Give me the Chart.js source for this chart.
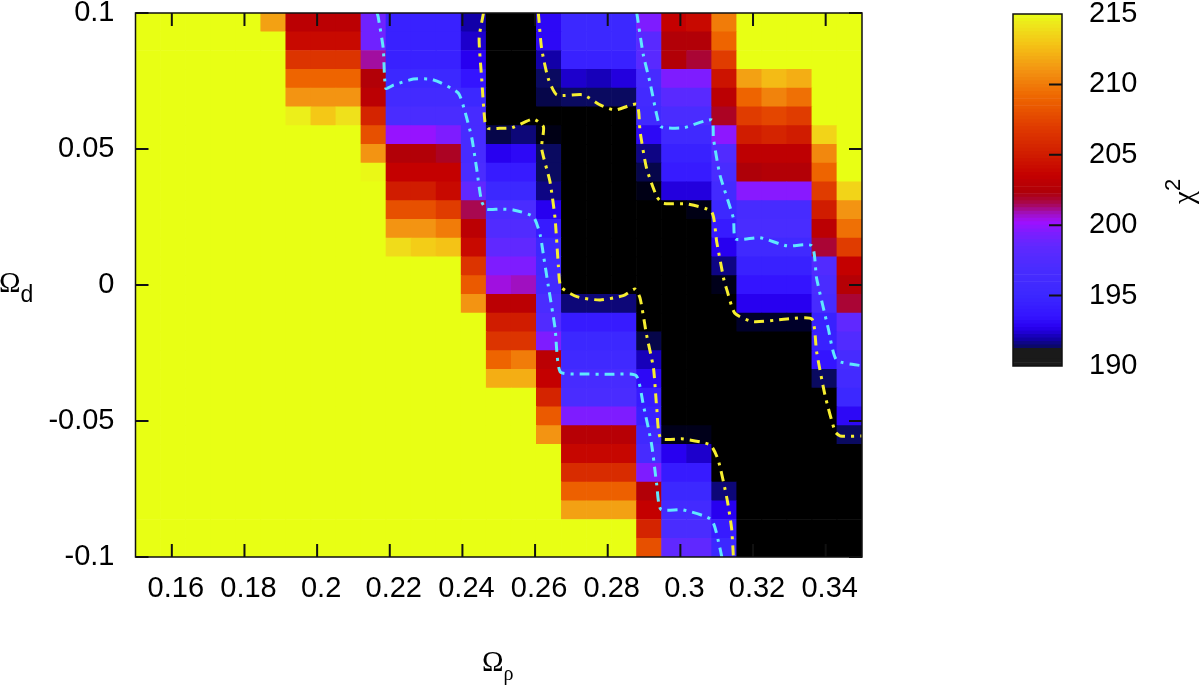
<!DOCTYPE html>
<html>
<head>
<meta charset="utf-8">
<title>chi2 map</title>
<script src="https://cdn.jsdelivr.net/npm/chart.js@4"></script>
<style>
  html, body { margin: 0; padding: 0; background: #fff; width: 1200px; height: 685px; overflow: hidden; }
  canvas { position: absolute; display: block; }
  #map-canvas { left: 0; top: 0; }
  #bar-canvas { left: 1000px; top: 0; }
  .lab { position: absolute; font-family: "Liberation Serif", serif; font-size: 29px; color: #000; line-height: 1; white-space: nowrap; }
  .lab sub { line-height: 0; }
  .lab sup { font-family: "Liberation Sans", sans-serif; font-size: 22px; vertical-align: 13px; line-height: 0; }
  #label-rho { left: 482px; top: 647px; }
  #label-rho sub { font-size: 20px; vertical-align: -9px; }
  #label-d { left: -1px; top: 268px; }
  #label-d sub { font-family: "Liberation Sans", sans-serif; font-size: 23px; vertical-align: -10px; }
  #label-chi { left: 1169px; top: 204px; transform-origin: 0 0; transform: rotate(-90deg); }
</style>
</head>
<body>
<canvas id="map-canvas" width="1200" height="685"></canvas>
<canvas id="bar-canvas" width="200" height="385"></canvas>
<div class="lab" id="label-rho">Ω<sub>ρ</sub></div>
<div class="lab" id="label-d">Ω<sub>d</sub></div>
<div class="lab" id="label-chi">χ<sup>2</sup></div>
<script>
// axis ranges and ticks
var rhoRange = [0.15, 0.35];
var dRange = [-0.1, 0.1];
var chiRange = [190, 215];
var rhoTicks = [0.16, 0.18, 0.2, 0.22, 0.24, 0.26, 0.28, 0.3, 0.32, 0.34];
var dTicks = [-0.1, -0.05, 0, 0.05, 0.1];
var chiTicks = [190, 195, 200, 205, 210, 215];

// chi2 per cell, top row first, 29 x 29
var chi2Rows = [
  [215,215,215,215,215,211.5,203,203,203,199,194.5,194.5,194.5,191.9,190,190,193,195,195,195,199.5,203.5,204,210,215,215,215,215,215],
  [215,215,215,215,215,215,204,204,204,199,194.5,194.5,194.5,192.3,190,190,193,195,195,195,198,202.5,202.5,209,215,215,215,215,215],
  [215,215,215,215,215,215,206.5,206.5,206.5,201,194.5,194.5,194.5,192.7,190,190,191.9,194.5,194.5,194.5,198,202.5,201.8,207,215,215,215,215,215],
  [215,215,215,215,215,215,209,209,209,202.5,195,195,195,193.5,190,190,191.3,192.3,192.1,192.5,196.5,199.5,199.5,204.5,211.5,212.5,212,215,215],
  [215,215,215,215,215,215,211,211,211,203,196,196,196,195,190,190,191.1,191.3,191.3,191.3,196,198,198,203,209,210.3,209.5,215,215],
  [215,215,215,215,215,215,214.5,213,214,205.5,197,197,197,196.5,190,190,190,190,190,190,195.5,197,197,202,207,207.5,207,215,215],
  [215,215,215,215,215,215,215,215,215,208,200,200,199.5,196.5,191.1,191.5,190.4,190,190,190,193,195.5,195.5,199.8,205,205.5,205,213.5,215],
  [215,215,215,215,215,215,215,215,215,211,202.5,202.5,202,196.5,192.7,193,191.3,190,190,190,191.6,194.5,194.5,197.5,203.2,203.2,203.2,210.5,215],
  [215,215,215,215,215,215,215,215,215,214.8,203.5,203.5,203.5,197,194,194,191.3,190,190,190,191.1,194,194,196.8,202.3,202.6,202.6,209,215],
  [215,215,215,215,215,215,215,215,215,215,205,205,204,198.5,195,195,191.6,190,190,190,190.4,192.5,192.5,196,199.7,199.7,199.7,207,213.5],
  [215,215,215,215,215,215,215,215,215,215,208,208,207,201.5,197,197,192.7,190,190,190,190,190,190.4,195,196.5,196.5,196.5,205,211],
  [215,215,215,215,215,215,215,215,215,215,211,211,210,203,197.5,197.5,194,190,190,190,190,190,190,194,196.8,196.8,196.8,203,209.5],
  [215,215,215,215,215,215,215,215,215,215,213.8,213.2,212.8,204,198.5,198.5,195,190,190,190,190,190,190,192.7,195.5,195.5,195.5,201.8,207],
  [215,215,215,215,215,215,215,215,215,215,215,215,215,206.5,199.5,199.5,195.5,190,190,190,190,190,190,191.6,194.5,194.5,194.5,197.5,203.5],
  [215,215,215,215,215,215,215,215,215,215,215,215,215,208.5,200.5,200.8,196,190,190,190,190,190,190,190.5,193.5,193.5,193.5,197,202.7],
  [215,215,215,215,215,215,215,215,215,215,215,215,215,211,203,203,197,191.5,191.5,191.5,190,190,190,190,192.7,192.7,192.7,196.5,201.8],
  [215,215,215,215,215,215,215,215,215,215,215,215,215,215,205,205,197.5,194,194,194,190,190,190,190,190.8,190.8,190.8,194.5,198.5],
  [215,215,215,215,215,215,215,215,215,215,215,215,215,215,206.5,206.5,199.5,195,195,195,191.1,190,190,190,190,190,190,194.5,197.5],
  [215,215,215,215,215,215,215,215,215,215,215,215,215,215,209,210,203,195.5,195.5,195.5,192.1,190,190,190,190,190,190,193.5,196.5],
  [215,215,215,215,215,215,215,215,215,215,215,215,215,215,212,212,203.5,196.5,196.5,196.5,193,190,190,190,190,190,190,191.3,196],
  [215,215,215,215,215,215,215,215,215,215,215,215,215,215,215,215,205.5,197,197,197,194,190,190,190,190,190,190,190,195],
  [215,215,215,215,215,215,215,215,215,215,215,215,215,215,215,215,208.5,199.5,199.5,199.5,194.5,190,190,190,190,190,190,190,193],
  [215,215,215,215,215,215,215,215,215,215,215,215,215,215,215,215,211,202.8,202.8,202.8,195.5,190.5,190.5,190,190,190,190,190,191.3],
  [215,215,215,215,215,215,215,215,215,215,215,215,215,215,215,215,215,203.8,203.8,203.8,196.5,192.7,192.3,190,190,190,190,190,190],
  [215,215,215,215,215,215,215,215,215,215,215,215,215,215,215,215,215,206,206,206,199.5,194,194,190,190,190,190,190,190],
  [215,215,215,215,215,215,215,215,215,215,215,215,215,215,215,215,215,208.8,208.8,208.8,202.5,195,195,191.5,190,190,190,190,190],
  [215,215,215,215,215,215,215,215,215,215,215,215,215,215,215,215,215,211.5,211.5,211.5,203.5,196,196,192.7,190,190,190,190,190],
  [215,215,215,215,215,215,215,215,215,215,215,215,215,215,215,215,215,215,215,215,205.5,197,197,194,190,190,190,190,190],
  [215,215,215,215,215,215,215,215,215,215,215,215,215,215,215,215,215,215,215,215,208,198.5,198.5,195,190,190,190,190,190]
];

// contour lines
var cyan1X = [.2165,.2168,.2182,.2189,.2210,.2265,.2311,.2338,.2389,.2407,.2426,.2439,.2453,.2467,.2503,.2540,.2595,.2614,.2623,.2636,.2655,.2669,.2724,.2806,.2878,.2898,.2921,.2935,.2946,.3008,.3086,.3109,.3114];
var cyan1Y = [.1,.0986,.0870,.0723,.0735,.0757,.0757,.0745,.0705,.0637,.0539,.0429,.0306,.0279,.0279,.0276,.0251,.0184,.0110,.0000,-.0158,-.0319,-.0327,-.0328,-.0333,-.0441,-.0588,-.0735,-.0824,-.0827,-.0864,-.0968,-.1];
var cyan2X = [.2880,.2898,.2916,.2935,.2946,.3008,.3086,.3091,.3109,.3146,.3152,.3219,.3293,.3362,.3375,.3407,.3430,.3499];
var cyan2Y = [.1,.0846,.0747,.0625,.0582,.0578,.0607,.0539,.0404,.0245,.0169,.0174,.0144,.0144,.0025,-.0159,-.0276,-.0297];
var yellow1X = [.2458,.2446,.2453,.2462,.2471,.2503,.2536,.2595,.2623,.2618,.2641,.2655,.2664,.2671,.2715,.2779,.2843,.2875,.2889,.2907,.2926,.2935,.2946,.3008,.3082,.3104,.3128,.3141,.3146];
var yellow1Y = [.1,.0907,.0760,.0600,.0576,.0576,.0578,.0610,.0582,.0503,.0380,.0245,.0074,-.0006,-.0043,-.0055,-.0039,-.0015,-.0048,-.0184,-.0306,-.0453,-.0564,-.0566,-.0588,-.0643,-.0784,-.0895,-.1];
var yellow2X = [.2609,.2618,.2636,.2660,.2733,.2779,.2820,.2880,.2889,.2907,.2935,.2953,.3018,.3086,.3100,.3120,.3128,.3150,.3201,.3293,.3362,.3375,.3398,.3426,.3440,.3500];
var yellow2Y = [.1,.0870,.0760,.0699,.0699,.0662,.0643,.0664,.0564,.0429,.0325,.0300,.0298,.0269,.0159,.0018,-.0018,-.0104,-.0135,-.0125,-.0125,-.0245,-.0404,-.0539,-.0555,-.0555];

// palette, chi2 value -> colour
var paletteValues = [190,190.8,191.3,191.9,192.7,193.5,195,197,198.5,199.5,200.2,200.8,201.5,202.3,203.5,205,207,209,211,213,214.3,215];
var paletteColors = ["#000000","#00002a","#0a0a60","#1200a8","#2800f0","#3414ff","#3c28ff","#4a2cff","#6028ff","#7e1cff","#a010ff","#a010c0","#a80850","#ae0008","#c40000","#d01c00","#e03c00","#ee6400","#f39412","#f4c816","#eee81c","#e8ff14"];
var barFloorColor = "#1a1a1a";

function hexToRgb(h) {
  return [parseInt(h.substr(1, 2), 16), parseInt(h.substr(3, 2), 16), parseInt(h.substr(5, 2), 16)];
}

function chiColor(v) {
  var i = 0;
  while (i < paletteValues.length - 2 && v > paletteValues[i + 1]) i++;
  var t = (v - paletteValues[i]) / (paletteValues[i + 1] - paletteValues[i]);
  t = Math.max(0, Math.min(1, t));
  var a = hexToRgb(paletteColors[i]), b = hexToRgb(paletteColors[i + 1]);
  return "rgb(" + Math.round(a[0] + (b[0] - a[0]) * t) + "," + Math.round(a[1] + (b[1] - a[1]) * t) + "," + Math.round(a[2] + (b[2] - a[2]) * t) + ")";
}

// inward tick marks and the frame, gnuplot style
var frameTicks = {
  id: "frameTicks",
  afterDatasetsDraw: function(chart, args, opts) {
    var ctx = chart.ctx, a = chart.chartArea;
    ctx.save();
    ctx.strokeStyle = "#111";
    ctx.lineWidth = 2;
    ctx.beginPath();
    (opts.xTicks || []).forEach(function(v) {
      var px = chart.scales.x.getPixelForValue(v);
      ctx.moveTo(px, a.top); ctx.lineTo(px, a.top + 13);
      ctx.moveTo(px, a.bottom); ctx.lineTo(px, a.bottom - 13);
    });
    (opts.yTicks || []).forEach(function(v) {
      var py = chart.scales.y.getPixelForValue(v);
      if (opts.leftTicks) { ctx.moveTo(a.left, py); ctx.lineTo(a.left + 13, py); }
      ctx.moveTo(a.right, py); ctx.lineTo(a.right - 13, py);
    });
    ctx.stroke();
    ctx.lineWidth = 1.5;
    ctx.strokeRect(a.left, a.top, a.right - a.left, a.bottom - a.top);
    ctx.restore();
  }
};

// one bar per cell
var cells = [], cellColors = [];
var nRows = chi2Rows.length, nCols = chi2Rows[0].length;
var cellW = (rhoRange[1] - rhoRange[0]) / nCols, cellH = (dRange[1] - dRange[0]) / nRows;
chi2Rows.forEach(function(row, r) {
  row.forEach(function(v, c) {
    var top = dRange[1] - r * cellH;
    cells.push({ x: rhoRange[0] + (c + 0.5) * cellW, y: [top - cellH, top] });
    cellColors.push(chiColor(v));
  });
});

function contour(xs, ys, color) {
  return {
    type: "line",
    order: 1,
    data: xs.map(function(x, i) { return { x: x, y: ys[i] }; }),
    borderColor: color,
    borderWidth: 3,
    borderDash: [10, 6, 3, 6],
    pointRadius: 0,
    tension: 0.2,
    fill: false
  };
}

var tickFont = { family: "'Liberation Sans', Arial, sans-serif", size: 29 };

new Chart(document.getElementById("map-canvas"), {
  type: "bar",
  data: {
    datasets: [
      { order: 2, data: cells, backgroundColor: cellColors, borderWidth: 0, barPercentage: 1, categoryPercentage: 1 },
      contour(cyan1X, cyan1Y, "#5fe8ff"),
      contour(cyan2X, cyan2Y, "#5fe8ff"),
      contour(yellow1X, yellow1Y, "#f6ee30"),
      contour(yellow2X, yellow2Y, "#f6ee30")
    ]
  },
  options: {
    responsive: false,
    animation: false,
    layout: { padding: { top: 13, right: 338 } },
    plugins: {
      legend: { display: false },
      tooltip: { enabled: false },
      frameTicks: { xTicks: rhoTicks, yTicks: dTicks, leftTicks: true }
    },
    scales: {
      x: {
        type: "linear",
        offset: false,
        min: rhoRange[0],
        max: rhoRange[1],
        grid: { display: false, drawTicks: false, offset: false },
        border: { display: false },
        afterBuildTicks: function(s) { s.ticks = rhoTicks.map(function(v) { return { value: v }; }); },
        afterFit: function(s) { s.height = 128; s.paddingLeft = 0; s.paddingRight = 0; },
        ticks: {
          color: "#000", font: tickFont, padding: 15, labelOffset: 4, maxRotation: 0, autoSkip: false,
          callback: function(v) { return String(v); }
        }
      },
      y: {
        type: "linear",
        min: dRange[0],
        max: dRange[1],
        grid: { display: false, drawTicks: false },
        border: { display: false },
        afterBuildTicks: function(s) { s.ticks = dTicks.map(function(v) { return { value: v }; }); },
        afterFit: function(s) { s.width = 135.5; s.paddingTop = 0; s.paddingBottom = 0; },
        ticks: {
          color: "#000", font: tickFont, padding: 21, autoSkip: false,
          callback: function(v) { return String(v); }
        }
      }
    }
  },
  plugins: [frameTicks]
});

// colour bar, a stack of thin bars
var barLevels = [];
for (var l = chiRange[0]; l < chiRange[1]; l += 0.25) barLevels.push(l);

new Chart(document.getElementById("bar-canvas"), {
  type: "bar",
  data: {
    labels: ["chi2"],
    datasets: barLevels.map(function(l) {
      return {
        data: [[l, l + 0.25]],
        backgroundColor: l < 191.2 ? barFloorColor : chiColor(l + 0.125),
        stack: "bar", borderWidth: 0, barPercentage: 1, categoryPercentage: 1
      };
    })
  },
  options: {
    responsive: false,
    animation: false,
    layout: { padding: { left: 13, top: 14, bottom: 19 } },
    plugins: {
      legend: { display: false },
      tooltip: { enabled: false },
      frameTicks: { yTicks: chiTicks.slice(1, -1), leftTicks: false }
    },
    scales: {
      x: { display: false },
      y: {
        position: "right",
        stacked: false,
        min: chiRange[0],
        max: chiRange[1],
        grid: { display: false, drawTicks: false },
        border: { display: false },
        afterBuildTicks: function(s) { s.ticks = chiTicks.map(function(v) { return { value: v }; }); },
        afterFit: function(s) { s.width = 138; s.paddingTop = 0; s.paddingBottom = 0; },
        ticks: { color: "#000", font: tickFont, padding: 27, autoSkip: false }
      }
    }
  },
  plugins: [frameTicks]
});
</script>
</body>
</html>
